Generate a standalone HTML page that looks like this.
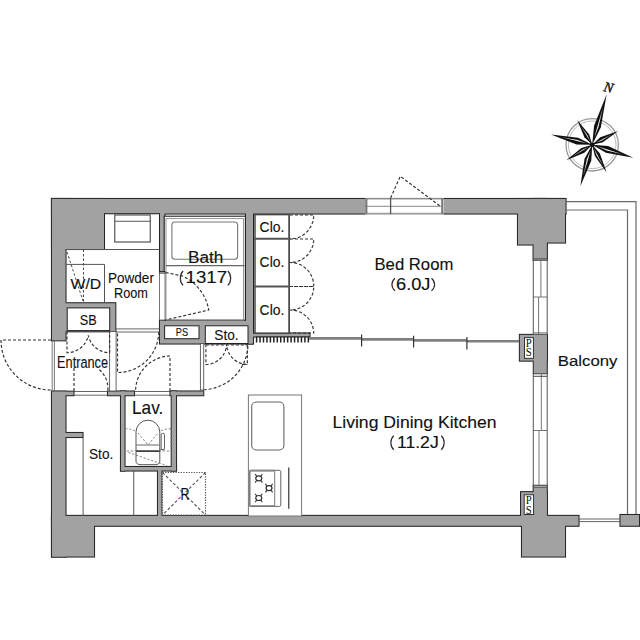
<!DOCTYPE html>
<html><head><meta charset="utf-8"><style>
html,body{margin:0;padding:0;background:#fff;}
svg{display:block;}
text{font-family:"Liberation Sans",sans-serif;fill:#111;stroke:#111;stroke-width:0.12px;}
text.n{font-family:"Liberation Serif",serif;font-style:italic;font-size:14px;stroke-width:0.4px;}
text.ps{font-family:"Liberation Serif",serif;font-size:11.5px;stroke-width:0;}
</style></head><body>
<svg width="640" height="640" viewBox="0 0 640 640">
<rect width="640" height="640" fill="#fff"/>
<rect x="51.5" y="198.5" width="514.50" height="15.50" fill="#222" stroke="#222" stroke-width="1.1"/>
<rect x="51.5" y="198.5" width="14.50" height="142.30" fill="#222" stroke="#222" stroke-width="1.1"/>
<rect x="51.5" y="391.2" width="14.50" height="165.80" fill="#222" stroke="#222" stroke-width="1.1"/>
<rect x="51.5" y="198.5" width="53.00" height="51.00" fill="#222" stroke="#222" stroke-width="1.1"/>
<rect x="159.5" y="211" width="5.50" height="61.00" fill="#222" stroke="#222" stroke-width="1.1"/>
<rect x="63" y="302.8" width="52.80" height="29.00" fill="#222" stroke="#222" stroke-width="1.1"/>
<rect x="245.5" y="211" width="8.00" height="133.00" fill="#222" stroke="#222" stroke-width="1.1"/>
<rect x="159.5" y="320" width="93.00" height="24.00" fill="#222" stroke="#222" stroke-width="1.1"/>
<rect x="250" y="333" width="60.00" height="4.00" fill="#222" stroke="#222" stroke-width="1.1"/>
<rect x="517.5" y="198.5" width="29.50" height="46.50" fill="#222" stroke="#222" stroke-width="1.1"/>
<rect x="533" y="198.5" width="32.50" height="44.50" fill="#222" stroke="#222" stroke-width="1.1"/>
<rect x="533.1" y="198.5" width="14.20" height="61.80" fill="#222" stroke="#222" stroke-width="1.1"/>
<rect x="519.4" y="334.4" width="27.80" height="26.70" fill="#222" stroke="#222" stroke-width="1.1"/>
<rect x="533.3" y="334.4" width="13.90" height="39.40" fill="#222" stroke="#222" stroke-width="1.1"/>
<rect x="520.6" y="491.7" width="26.60" height="34.30" fill="#222" stroke="#222" stroke-width="1.1"/>
<rect x="533.2" y="485.2" width="14.00" height="40.80" fill="#222" stroke="#222" stroke-width="1.1"/>
<rect x="51.5" y="515.4" width="527.50" height="10.80" fill="#222" stroke="#222" stroke-width="1.1"/>
<rect x="51.5" y="516" width="43.00" height="41.00" fill="#222" stroke="#222" stroke-width="1.1"/>
<rect x="521.5" y="516" width="44.00" height="41.00" fill="#222" stroke="#222" stroke-width="1.1"/>
<rect x="51.5" y="391.2" width="22.50" height="4.50" fill="#222" stroke="#222" stroke-width="1.1"/>
<rect x="107.5" y="391" width="27.00" height="4.70" fill="#222" stroke="#222" stroke-width="1.1"/>
<rect x="170" y="391" width="33.70" height="4.70" fill="#222" stroke="#222" stroke-width="1.1"/>
<rect x="120.5" y="391" width="4.50" height="80.00" fill="#222" stroke="#222" stroke-width="1.1"/>
<rect x="171.25" y="391" width="5.25" height="80.00" fill="#222" stroke="#222" stroke-width="1.1"/>
<rect x="120.5" y="466.5" width="56.00" height="4.50" fill="#222" stroke="#222" stroke-width="1.1"/>
<rect x="157.5" y="466.5" width="4.50" height="51.50" fill="#222" stroke="#222" stroke-width="1.1"/>
<rect x="62" y="432.5" width="21.00" height="5.00" fill="#222" stroke="#222" stroke-width="1.1"/>
<rect x="620" y="514.5" width="19.50" height="11.70" fill="#222" stroke="#222" stroke-width="1.1"/>
<rect x="51.95" y="198.95" width="513.60" height="14.60" fill="#a2a2a2"/>
<rect x="51.95" y="198.95" width="13.60" height="141.40" fill="#a2a2a2"/>
<rect x="51.95" y="391.65" width="13.60" height="164.90" fill="#a2a2a2"/>
<rect x="51.95" y="198.95" width="52.10" height="50.10" fill="#a2a2a2"/>
<rect x="159.95" y="211.45" width="4.60" height="60.10" fill="#a2a2a2"/>
<rect x="63.45" y="303.25" width="51.90" height="28.10" fill="#a2a2a2"/>
<rect x="245.95" y="211.45" width="7.10" height="132.10" fill="#a2a2a2"/>
<rect x="159.95" y="320.45" width="92.10" height="23.10" fill="#a2a2a2"/>
<rect x="250.45" y="333.45" width="59.10" height="3.10" fill="#a2a2a2"/>
<rect x="517.95" y="198.95" width="28.60" height="45.60" fill="#a2a2a2"/>
<rect x="533.45" y="198.95" width="31.60" height="43.60" fill="#a2a2a2"/>
<rect x="533.5500000000001" y="198.95" width="13.30" height="60.90" fill="#a2a2a2"/>
<rect x="519.85" y="334.84999999999997" width="26.90" height="25.80" fill="#a2a2a2"/>
<rect x="533.75" y="334.84999999999997" width="13.00" height="38.50" fill="#a2a2a2"/>
<rect x="521.0500000000001" y="492.15" width="25.70" height="33.40" fill="#a2a2a2"/>
<rect x="533.6500000000001" y="485.65" width="13.10" height="39.90" fill="#a2a2a2"/>
<rect x="51.95" y="515.85" width="526.60" height="9.90" fill="#a2a2a2"/>
<rect x="51.95" y="516.45" width="42.10" height="40.10" fill="#a2a2a2"/>
<rect x="521.95" y="516.45" width="43.10" height="40.10" fill="#a2a2a2"/>
<rect x="51.95" y="391.65" width="21.60" height="3.60" fill="#a2a2a2"/>
<rect x="107.95" y="391.45" width="26.10" height="3.80" fill="#a2a2a2"/>
<rect x="170.45" y="391.45" width="32.80" height="3.80" fill="#a2a2a2"/>
<rect x="120.95" y="391.45" width="3.60" height="79.10" fill="#a2a2a2"/>
<rect x="171.7" y="391.45" width="4.35" height="79.10" fill="#a2a2a2"/>
<rect x="120.95" y="466.95" width="55.10" height="3.60" fill="#a2a2a2"/>
<rect x="157.95" y="466.95" width="3.60" height="50.60" fill="#a2a2a2"/>
<rect x="62.45" y="432.95" width="20.10" height="4.10" fill="#a2a2a2"/>
<rect x="620.45" y="514.95" width="18.60" height="10.80" fill="#a2a2a2"/>
<rect x="365" y="198" width="79" height="16.5" fill="#fff"/>
<path d="M365,198.8H444" stroke="#444" stroke-width="0.9" fill="none"/>
<path d="M365,213.3H444M365,206.3H441" stroke="#888" stroke-width="1" fill="none"/>
<path d="M366.3,198.5V214M442.3,198.5V214" stroke="#777" stroke-width="2.2" fill="none"/>
<path d="M390.6,198.5V214" stroke="#555" stroke-width="1.3" fill="none"/>
<path d="M390.6,198L400.3,176.3L440,206" stroke="#333" stroke-width="1.15" stroke-dasharray="3,2" fill="none"/>
<rect x="67.2" y="307.9" width="42.50" height="22.70" fill="#fff" stroke="#222" stroke-width="1"/>
<rect x="164.6" y="325.8" width="34.40" height="12.90" fill="#fff" stroke="#222" stroke-width="1"/>
<rect x="205.3" y="325.8" width="42.70" height="17.70" fill="#fff" stroke="#222" stroke-width="1"/>
<rect x="104.5" y="213.75" width="55" height="35.75" fill="#fff" stroke="#222" stroke-width="1"/>
<rect x="114.75" y="215" width="35.5" height="27" fill="#fff" stroke="#555" stroke-width="1.2"/>
<path d="M114.75,221.25H150.25" stroke="#555" stroke-width="1"/>
<path d="M66,249.5H159.5M104.5,264.4V302.5H66M104.5,264.4H66" stroke="#555" stroke-width="1" fill="none"/>
<path d="M83.5,249.5V302.5M67,252L83,301" stroke="#333" stroke-width="0.9" stroke-dasharray="2.5,2" fill="none"/>
<rect x="164.2" y="216.2" width="81.2" height="104" fill="#fff" stroke="#222" stroke-width="1.1"/>
<rect x="166" y="218.6" width="77.6" height="101.6" fill="none" stroke="#888" stroke-width="0.9"/>
<rect x="171.9" y="222" width="65.7" height="37.3" rx="3" fill="none" stroke="#777" stroke-width="1.1"/>
<path d="M165.8,265.6H244.4" stroke="#666" stroke-width="1.1"/>
<rect x="159.5" y="272" width="5.5" height="48" fill="#fff" stroke="#555" stroke-width="0.8"/>
<path d="M159,271.5H165.5M159,273.2H165.5" stroke="#222" stroke-width="0.8"/>
<path d="M165.6,272.5L182.5,276A46,46 0 0 1 208.75,310L165.6,320" stroke="#333" stroke-width="1.15" stroke-dasharray="3,2" fill="none"/>
<rect x="253.5" y="214.8" width="36" height="118.2" fill="#fff" stroke="#222" stroke-width="1"/>
<path d="M255,214.4V333M289,214.4V333" stroke="#555" stroke-width="1.6" fill="none"/>
<path d="M254,238.75H290M254,286.5H290" stroke="#555" stroke-width="2" fill="none"/>
<path d="M290,215H313.75A24,24 0 0 1 290,239" stroke="#333" stroke-width="1.15" stroke-dasharray="3,2" fill="none"/>
<path d="M290,239H313.75A23.5,23.5 0 0 1 290,262.5A23.5,23.5 0 0 1 313.75,286.5H290" stroke="#333" stroke-width="1.15" stroke-dasharray="3,2" fill="none"/>
<path d="M290,286.5H313.75A23.5,23.5 0 0 1 290,310A23.5,23.5 0 0 1 313.75,333H290" stroke="#333" stroke-width="1.15" stroke-dasharray="3,2" fill="none"/>
<rect x="255.6" y="337" width="53.8" height="5.5" fill="#fff"/>
<path d="M256.60,337V342.5M260.05,337V342.5M263.50,337V342.5M266.95,337V342.5M270.40,337V342.5M273.85,337V342.5M277.30,337V342.5M280.75,337V342.5M284.20,337V342.5M287.65,337V342.5M291.10,337V342.5M294.55,337V342.5M298.00,337V342.5M301.45,337V342.5M304.90,337V342.5M308.35,337V342.5" stroke="#222" stroke-width="1.5"/>
<path d="M255.6,337H309.4" stroke="#222" stroke-width="1"/>
<path d="M309,338.4H362M362,339.4H414M414,340.4H467M467,341.3H519" stroke="#808080" stroke-width="2.6" fill="none"/>
<path d="M361.6,334.4V346.6M413.6,335.8V347.6M466.9,337V349.5" stroke="#333" stroke-width="1.2"/>
<rect x="533.3" y="260.3" width="13.9" height="74.10" fill="#fff" stroke="#555" stroke-width="1"/>
<path d="M533.3,297H547.2" stroke="#555" stroke-width="0.8" fill="none"/>
<path d="M540.9,260.3V297M538.6,297V334.4" stroke="#777" stroke-width="1" fill="none"/>
<rect x="533.3" y="373.8" width="13.9" height="111.40" fill="#fff" stroke="#555" stroke-width="1"/>
<path d="M533.3,430.5H547.2" stroke="#555" stroke-width="0.8" fill="none"/>
<path d="M541.3,373.8V430.5M539,430.5V485.2" stroke="#777" stroke-width="1" fill="none"/>
<path d="M533.3,258.6H547.2M533.3,332.9H547.2M533.3,487.5H547.2" stroke="#666" stroke-width="1"/>
<path d="M533.3,376.3H547.2" stroke="#333" stroke-width="0.9"/>
<rect x="524.5" y="337.7" width="8.9" height="20.6" fill="#fff" stroke="#222" stroke-width="0.9"/>
<rect x="524.2" y="494.8" width="9.4" height="19.7" fill="#fff" stroke="#222" stroke-width="0.9"/>
<path d="M566,201.6H636V514M566,210H627.5V514" stroke="#6a6a6a" stroke-width="1.2" fill="none"/>
<path d="M579,519H620M579,521.6H620" stroke="#555" stroke-width="0.9" fill="none"/>
<path d="M52.2,340V391M54.4,340V391" stroke="#555" stroke-width="0.8" fill="none"/>
<path d="M51,340H1A50,50 0 0 0 51,390" stroke="#333" stroke-width="1.15" stroke-dasharray="3,2" fill="none"/>
<path d="M74,391.5H107.5M74,395.2H107.5M134.5,391.5H170M134.5,395.2H170" stroke="#555" stroke-width="0.9" fill="none"/>
<rect x="109.6" y="331.5" width="6.5" height="59.5" fill="#fff" stroke="#555" stroke-width="0.9"/>
<path d="M116,328.9H159.5M116,332H159.5" stroke="#555" stroke-width="0.9" fill="none"/>
<path d="M67,331.5V352.7A21.7,21.7 0 0 0 88.3,335.4A21.7,21.7 0 0 0 109.6,352.7V331.5" stroke="#333" stroke-width="1.15" stroke-dasharray="3,2" fill="none"/>
<path d="M158.75,332A41,41 0 0 1 117.5,372.5V332" stroke="#333" stroke-width="1.15" stroke-dasharray="3,2" fill="none"/>
<path d="M170,391V356A35,35 0 0 0 135.6,391" stroke="#333" stroke-width="1.15" stroke-dasharray="3,2" fill="none"/>
<path d="M74,391V368" stroke="#333" stroke-width="1.15" stroke-dasharray="3,2" fill="none"/>
<path d="M99.4,369.7A25,25 0 0 1 107.8,391" stroke="#333" stroke-width="1.15" stroke-dasharray="3,2" fill="none"/>
<path d="M205.9,344.3V364.5A21,21 0 0 0 226.65,344.3A21,21 0 0 0 247.4,364.5V344.3M205.9,345H247.4M242,364.5H247.4" stroke="#333" stroke-width="1.15" stroke-dasharray="3,2" fill="none"/>
<rect x="200.4" y="343.5" width="3.3" height="46.5" fill="#fff" stroke="#555" stroke-width="0.9"/>
<path d="M203.7,389.7A46,46 0 0 0 248,343.5" stroke="#333" stroke-width="1.15" stroke-dasharray="3,2" fill="none"/>
<path d="M83.1,437.5V516M133.75,471V516" stroke="#555" stroke-width="1" fill="none"/>
<path d="M125.2,428.6V451H171V428.6M125.2,428.6Q131,429 136,431M171,428.6Q165,429 159.8,431M138,433L148,445L158,433M128.4,452.5L166.9,465.6" stroke="#777" stroke-width="0.9" stroke-dasharray="2.2,1.8" fill="none"/>
<path d="M136,451V432A11.9,11.8 0 0 1 159.8,432V451Z" fill="none" stroke="#555" stroke-width="1"/>
<path d="M136,445H159.8" stroke="#777" stroke-width="1.1"/>
<path d="M136,451.2H159.8" stroke="#333" stroke-width="1.3"/>
<path d="M136,451.5V461Q136,464.7 141,464.7H155Q159.8,464.7 159.8,461V451.5" fill="none" stroke="#555" stroke-width="1"/>
<rect x="161.2" y="433.3" width="3.3" height="16.4" rx="1.6" fill="#fff" stroke="#555" stroke-width="0.9"/>
<path d="M159.8,449.7H164.5" stroke="#555" stroke-width="0.8"/>
<rect x="162.5" y="472.5" width="43" height="42.5" fill="#fff" stroke="#555" stroke-width="1.2" stroke-dasharray="1.3,1.3"/>
<path d="M162.5,472.5L205.5,515M205.5,472.5L162.5,515" stroke="#555" stroke-width="1.1" stroke-dasharray="3,2"/>
<rect x="248.4" y="395" width="53.2" height="121" fill="#fff" stroke="#777" stroke-width="1"/>
<rect x="251.7" y="402" width="32.2" height="48" rx="4.5" fill="#fff" stroke="#666" stroke-width="1.1"/>
<rect x="249.8" y="470.3" width="31" height="36.1" rx="1.5" fill="#fff" stroke="#666" stroke-width="1"/>
<rect x="249.8" y="470.3" width="24.9" height="36.1" fill="none" stroke="#777" stroke-width="1"/>
<path d="M250,471.2H274.7M250,505.5H274.7" stroke="#999" stroke-width="1.2"/>
<ellipse cx="258.75" cy="478.3" rx="3" ry="2.5" fill="none" stroke="#333" stroke-width="1.2"/>
<path d="M255.15,474.0L256.75,476.3M262.35,474.0L260.75,476.3M255.15,482.6L256.75,480.3M262.35,482.6L260.75,480.3" stroke="#333" stroke-width="1.1"/>
<ellipse cx="269" cy="488.1" rx="3" ry="2.5" fill="none" stroke="#333" stroke-width="1.2"/>
<path d="M265.4,483.8L267,486.1M272.6,483.8L271,486.1M265.4,492.40000000000003L267,490.1M272.6,492.40000000000003L271,490.1" stroke="#333" stroke-width="1.1"/>
<ellipse cx="258.75" cy="498" rx="3" ry="2.5" fill="none" stroke="#333" stroke-width="1.2"/>
<path d="M255.15,493.7L256.75,496M262.35,493.7L260.75,496M255.15,502.3L256.75,500M262.35,502.3L260.75,500" stroke="#333" stroke-width="1.1"/>
<path d="M288.75,467.5V508.75" stroke="#444" stroke-width="1.3"/>
<circle cx="592.2" cy="144.8" r="26.2" fill="none" stroke="#999" stroke-width="1.3"/>
<circle cx="592.2" cy="144.8" r="23.8" fill="none" stroke="#aaa" stroke-width="0.8"/>
<path d="M592.2,144.8L600.77,127.60L606.67,94.33L594.05,125.67Z" fill="#111"/><path d="M594.23,137.73L598.49,126.94L602.91,107.45Z" fill="#fff"/>
<path d="M592.2,144.8L602.89,142.29L618.25,130.95L600.26,137.34Z" fill="#111"/><path d="M595.85,142.86L602.00,140.61L611.47,134.55Z" fill="#fff"/>
<path d="M592.2,144.8L605.91,152.79L633.21,157.73L608.02,146.12Z" fill="#111"/><path d="M597.94,146.61L606.63,150.52L622.55,154.37Z" fill="#fff"/>
<path d="M592.2,144.8L594.90,156.09L606.60,172.59L599.87,153.52Z" fill="#111"/><path d="M594.22,148.69L596.59,155.22L602.86,165.36Z" fill="#fff"/>
<path d="M592.2,144.8L584.57,158.72L580.35,186.13L591.30,160.65Z" fill="#111"/><path d="M590.54,150.59L586.86,159.37L583.43,175.39Z" fill="#fff"/>
<path d="M592.2,144.8L581.44,148.00L566.31,160.35L584.32,152.80Z" fill="#111"/><path d="M588.58,146.98L582.42,149.63L573.04,156.31Z" fill="#fff"/>
<path d="M592.2,144.8L578.20,137.70L550.96,134.52L576.51,144.49Z" fill="#111"/><path d="M586.43,143.36L577.63,140.01L561.68,137.19Z" fill="#fff"/>
<path d="M592.2,144.8L589.22,134.41L577.26,119.94L584.42,137.29Z" fill="#111"/><path d="M590.11,141.32L587.59,135.39L581.15,126.41Z" fill="#fff"/>
<circle cx="592.2" cy="144.8" r="2.4" fill="#111"/>
<text class="n" x="608.5" y="92" text-anchor="middle" transform="rotate(12 608.5 87)">N</text>
<text x="374.5" y="269.8" font-size="16" textLength="78.80" lengthAdjust="spacingAndGlyphs">Bed Room</text>
<text x="396" y="290" font-size="16" textLength="34.50" lengthAdjust="spacingAndGlyphs">6.0J</text>
<text x="332.5" y="428" font-size="15.8" textLength="164.10" lengthAdjust="spacingAndGlyphs">Living Dining Kitchen</text>
<text x="396.9" y="448.1" font-size="16" textLength="41.85" lengthAdjust="spacingAndGlyphs">11.2J</text>
<text x="557.75" y="366.25" font-size="15.5" textLength="59.75" lengthAdjust="spacingAndGlyphs">Balcony</text>
<text x="188" y="263.3" font-size="16" textLength="35.30" lengthAdjust="spacingAndGlyphs">Bath</text>
<text x="185.6" y="283.2" font-size="16" textLength="41.40" lengthAdjust="spacingAndGlyphs">1317</text>
<text x="108" y="283.1" font-size="15.5" textLength="45.90" lengthAdjust="spacingAndGlyphs">Powder</text>
<text x="114" y="298.2" font-size="14.8" textLength="34.00" lengthAdjust="spacingAndGlyphs">Room</text>
<text x="70.6" y="288.5" font-size="15.5" textLength="30.65" lengthAdjust="spacingAndGlyphs">W/D</text>
<text x="79.7" y="324.6" font-size="14" textLength="16.90" lengthAdjust="spacingAndGlyphs">SB</text>
<text x="57.1" y="367.9" font-size="16" textLength="50.90" lengthAdjust="spacingAndGlyphs">Entrance</text>
<text x="175.8" y="336.3" font-size="11.3" textLength="12.20" lengthAdjust="spacingAndGlyphs">PS</text>
<text x="214.3" y="339.7" font-size="14.6" textLength="24.30" lengthAdjust="spacingAndGlyphs">Sto.</text>
<text x="259.6" y="231.6" font-size="14.6" textLength="24.80" lengthAdjust="spacingAndGlyphs">Clo.</text>
<text x="259.6" y="266.9" font-size="14.6" textLength="24.80" lengthAdjust="spacingAndGlyphs">Clo.</text>
<text x="259.6" y="314.7" font-size="14.6" textLength="24.80" lengthAdjust="spacingAndGlyphs">Clo.</text>
<text x="132" y="414.2" font-size="17.8" textLength="31.30" lengthAdjust="spacingAndGlyphs">Lav.</text>
<text x="89" y="459" font-size="14.8" textLength="24.30" lengthAdjust="spacingAndGlyphs">Sto.</text>
<text x="180.5" y="499.5" font-size="17" textLength="9.00" lengthAdjust="spacingAndGlyphs">R</text>
<path d="M393.75,435.8C389.9,439.3 389.9,446.3 393.75,449.8" stroke="#2a2a2a" stroke-width="1.15" fill="none"/>
<path d="M441.25,435.8C445.1,439.3 445.1,446.3 441.25,449.8" stroke="#2a2a2a" stroke-width="1.15" fill="none"/>
<path d="M395,278.3C390.9,281.8 390.9,287.3 395,290.8" stroke="#2a2a2a" stroke-width="1.15" fill="none"/>
<path d="M431.5,278.3C435.6,281.8 435.6,287.3 431.5,290.8" stroke="#2a2a2a" stroke-width="1.15" fill="none"/>
<path d="M183.1,271C179.4,274.5 179.4,281.9 183.1,285.4" stroke="#2a2a2a" stroke-width="1.15" fill="none"/>
<path d="M227.8,271C231.6,274.5 231.6,281.9 227.8,285.4" stroke="#2a2a2a" stroke-width="1.15" fill="none"/>
<text x="525.8" y="346.7" class="ps" textLength="6" lengthAdjust="spacingAndGlyphs">P</text>
<text x="525.8" y="356.3" class="ps" textLength="6" lengthAdjust="spacingAndGlyphs">S</text>
<text x="525.8" y="504.0" class="ps" textLength="6" lengthAdjust="spacingAndGlyphs">P</text>
<text x="525.8" y="513.6" class="ps" textLength="6" lengthAdjust="spacingAndGlyphs">S</text>
</svg></body></html>
